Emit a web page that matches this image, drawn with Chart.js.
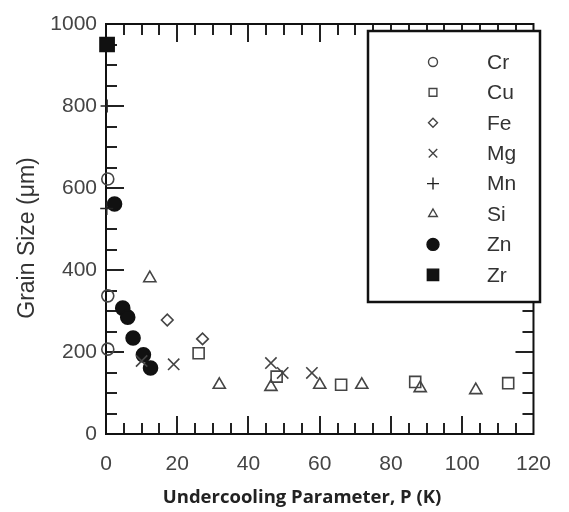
<!DOCTYPE html>
<html><head><meta charset="utf-8">
<script src="https://cdn.jsdelivr.net/npm/chart.js@4"></script>
<style>html,body{margin:0;padding:0;background:#fff}#wrap{width:569px;height:512px;position:relative}
.pre{position:absolute;left:-9999px;top:0;font-family:"Liberation Sans",Arial,sans-serif}
.pre2{position:absolute;left:-9999px;top:0;font-family:"Open Sans";font-weight:bold}</style>
</head><body><span class="pre">Grain 0123456789 Cr</span><span class="pre2">Undercooling</span><div id="wrap"><canvas id="c" width="569" height="512"></canvas></div>
<script>
// ---- data ----
const seriesNames = ["Cr","Cu","Fe","Mg","Mn","Si","Zn","Zr"];
const crX = [0.5, 0.5, 0.5];            const crY = [622, 337, 207];
const cuX = [26, 47.9, 66, 86.8, 112.9]; const cuY = [197, 140, 120, 127, 124];
const feX = [17.2, 27.1];               const feY = [278, 232];
const mgX = [10, 19, 46.3, 49.6, 57.8]; const mgY = [178, 170, 173, 149, 149];
const mnX = [0.3, 0.2];                 const mnY = [800, 550];
const siX = [12.3, 31.8, 46.3, 60, 71.8, 88.2, 103.8]; const siY = [380, 120, 115, 120, 120, 112, 107];
const znX = [2.4, 4.7, 6.1, 7.6, 10.5, 12.5]; const znY = [561, 307, 285, 234, 193, 161];
const zrX = [0.3];                      const zrY = [950];
const xTicks = [0, 20, 40, 60, 80, 100, 120];
const yTicks = [0, 200, 400, 600, 800, 1000];
const xTitle = "Undercooling Parameter, P (K)";
const yTitle = "Grain Size (\u03bcm)";

const SANS = 'Liberation Sans';
const pts = (xs, ys) => xs.map((x, i) => ({x: x, y: ys[i]}));
const GRAY = '#444';
const styles = [
  {pointStyle:'circle',   r:6,   lr:4.5, fill:'rgba(0,0,0,0)', stroke:GRAY},
  {pointStyle:'rect',     r:7.8, lr:5.5, fill:'rgba(0,0,0,0)', stroke:GRAY},
  {pointStyle:'rectRot',  r:5.8, lr:4.5, fill:'rgba(0,0,0,0)', stroke:GRAY},
  {pointStyle:'crossRot', r:8,   lr:6,   fill:'rgba(0,0,0,0)', stroke:GRAY},
  {pointStyle:'cross',    r:6.5, lr:6,   fill:'rgba(0,0,0,0)', stroke:'#222'},
  {pointStyle:'triangle', r:7,   lr:5,   fill:'rgba(0,0,0,0)', stroke:GRAY},
  {pointStyle:'circle',   r:7,   lr:6,   fill:'#111', stroke:'#111'},
  {pointStyle:'rect',     r:10,  lr:8,   fill:'#111', stroke:'#111'}
];
const dataXY = [pts(crX,crY), pts(cuX,cuY), pts(feX,feY), pts(mgX,mgY), pts(mnX,mnY), pts(siX,siY), pts(znX,znY), pts(zrX,zrY)];

const datasets = seriesNames.map((n, i) => ({
  label: n,
  data: dataXY[i],
  pointStyle: styles[i].pointStyle,
  pointRadius: styles[i].r,
  pointHoverRadius: styles[i].r,
  pointBackgroundColor: styles[i].fill,
  pointBorderColor: styles[i].stroke,
  pointBorderWidth: 1.6,
  showLine: false,
  clip: false
}));

const frameTicks = {
  id: 'frameTicks',
  beforeDatasetsDraw(chart) {
    const {ctx, chartArea: a, scales: {x, y}} = chart;
    ctx.save();
    ctx.strokeStyle = '#222';
    ctx.lineWidth = 2;
    ctx.beginPath();
    for (let v = 5; v < 120; v += 5) {
      const px = Math.round(x.getPixelForValue(v));
      const L = (v % 20 === 0) ? 18 : 11;
      ctx.moveTo(px, a.bottom); ctx.lineTo(px, a.bottom - L);
      ctx.moveTo(px, a.top); ctx.lineTo(px, a.top + L);
    }
    for (let v = 50; v < 1000; v += 50) {
      const py = Math.round(y.getPixelForValue(v));
      const L = (v % 200 === 0) ? 18 : 11;
      ctx.moveTo(a.left, py); ctx.lineTo(a.left + L, py);
      ctx.moveTo(a.right, py); ctx.lineTo(a.right - L, py);
    }
    ctx.stroke();
    ctx.strokeStyle = '#111';
    ctx.strokeRect(a.left, a.top, a.right - a.left, a.bottom - a.top);
    ctx.restore();
  },
  afterDraw(chart) {
    const ctx = chart.ctx;
    ctx.save();
    // axis titles
    ctx.textAlign = 'center';
    ctx.textBaseline = 'middle';
    ctx.fillStyle = '#222';
    ctx.font = 'bold 18.5px "Open Sans", sans-serif';
    ctx.fillText(xTitle, 302, 498);
    ctx.save();
    ctx.translate(28, 238);
    ctx.rotate(-Math.PI / 2);
    ctx.fillStyle = '#333';
    ctx.font = '23px "Liberation Sans", Arial, sans-serif';
    ctx.fillText(yTitle, 0, 0);
    ctx.restore();
    // legend
    ctx.textAlign = 'left';
    ctx.fillStyle = '#fff';
    const bx = 368, by = 31, bw = 172, bh = 271;
    ctx.fillRect(bx, by, bw, bh);
    ctx.strokeStyle = '#111';
    ctx.lineWidth = 2.5;
    ctx.strokeRect(bx, by, bw, bh);
    ctx.font = '21px "Liberation Sans", Arial, sans-serif';
    chart.data.datasets.forEach((ds, i) => {
      const yy = 62 + i * 30.4;
      ctx.fillStyle = styles[i].fill;
      ctx.strokeStyle = styles[i].stroke;
      ctx.lineWidth = 1.4;
      Chart.helpers.drawPoint(ctx, {pointStyle: styles[i].pointStyle, radius: styles[i].lr, rotation: 0, borderWidth: 1.4}, 433, yy);
      ctx.fillStyle = '#333';
      ctx.fillText(ds.label, 487, yy + 1);
    });
    ctx.restore();
  }
};

new Chart(document.getElementById('c'), {
  type: 'scatter',
  data: {datasets: datasets},
  options: {
    responsive: false,
    animation: false,
    events: [],
    layout: {padding: {top: 24, right: 25, left: 0, bottom: 0}},
    plugins: {legend: {display: false}, tooltip: {enabled: false}},
    scales: {
      x: {
        type: 'linear', min: 0, max: 120,
        afterBuildTicks: s => { s.ticks = xTicks.map(v => ({value: v})); },
        afterFit: s => { s.height = 78; },
        grid: {display: false, drawTicks: false},
        border: {display: false},
        ticks: {color: '#444', padding: 18, maxRotation: 0, autoSkip: false, callback: v => String(v), font: {family: SANS, size: 21}},
        title: {display: false}
      },
      y: {
        type: 'linear', min: 0, max: 1000,
        afterBuildTicks: s => { s.ticks = yTicks.map(v => ({value: v})); },
        afterFit: s => { s.width = 106; },
        grid: {display: false, drawTicks: false},
        border: {display: false},
        ticks: {color: '#444', padding: 9, autoSkip: false, callback: v => String(v), font: {family: SANS, size: 21}},
        title: {display: false}
      }
    }
  },
  plugins: [frameTicks]
});
</script>
</body></html>
